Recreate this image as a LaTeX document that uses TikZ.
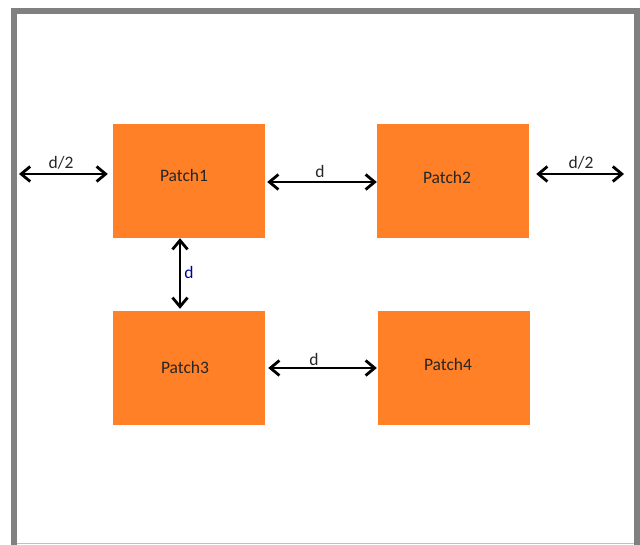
\documentclass[tikz,border=0pt]{standalone}
\usepackage{fontspec}
\setmainfont{Carlito}
\usetikzlibrary{arrows.meta}
\definecolor{patchorange}{HTML}{FF8026}
\definecolor{framegray}{HTML}{808080}
\definecolor{edgegray}{HTML}{C0C0C0}
\tikzset{
  patch/.style={fill=patchorange, draw=none, minimum width=152pt, minimum height=114pt, inner sep=0pt},
  lbl/.style={font=\fontsize{17.5}{19}\selectfont, text=black!85, inner sep=0pt},
  dim/.style={line width=2.8pt, {Straight Barb[length=9pt,width=15pt]}-{Straight Barb[length=9pt,width=15pt]}}
}
\begin{document}
\begin{tikzpicture}[x=1pt,y=-1pt]
\useasboundingbox (0,0) rectangle (640,545);
% frame
\draw[framegray, line width=6pt] (14,546) -- (14,11.5) -- (637,11.5) -- (637,546);
\draw[edgegray, line width=1pt] (17,543.5) -- (634,543.5);
% patches
\node[patch] (p1) at (189,181) {};
\node[patch] (p2) at (453,181) {};
\node[patch] (p3) at (189,368) {};
\node[patch] (p4) at (454,368) {};
\node[lbl] (t1) at (184,175) {Patch1};
\node[lbl] (t2) at (447,177) {Patch2};
\node[lbl] (t3) at (185,367) {Patch3};
\node[lbl] (t4) at (448,364) {Patch4};
% dimension arrows
\coordinate (fl) at (19,174);
\coordinate (fr) at (624,174);
\draw[dim, shorten >=5pt] (fl) -- (p1.west |- fl);
\draw[dim, shorten <=7pt] (p2.east |- fr) -- (fr);
\coordinate (y12) at (0,182);
\draw[dim, shorten <=2pt, shorten >=0pt] (p1.east |- y12) -- (p2.west |- y12);
\coordinate (x13) at (180,0);
\draw[dim, shorten <=0pt, shorten >=2pt] (p1.south -| x13) -- (p3.north -| x13);
\coordinate (y34) at (0,368);
\draw[dim, shorten <=3pt, shorten >=1pt] (p3.east |- y34) -- (p4.west |- y34);
% dimension labels
\node[lbl] (l1) at (61,163) {d/2};
\node[lbl] (l2) at (581,163) {d/2};
\node[lbl] (l3) at (320,171) {d};
\node[lbl, text=blue!60!black] (l4) at (189,272) {d};
\node[lbl] (l5) at (314,359) {d};
\end{tikzpicture}
\end{document}
